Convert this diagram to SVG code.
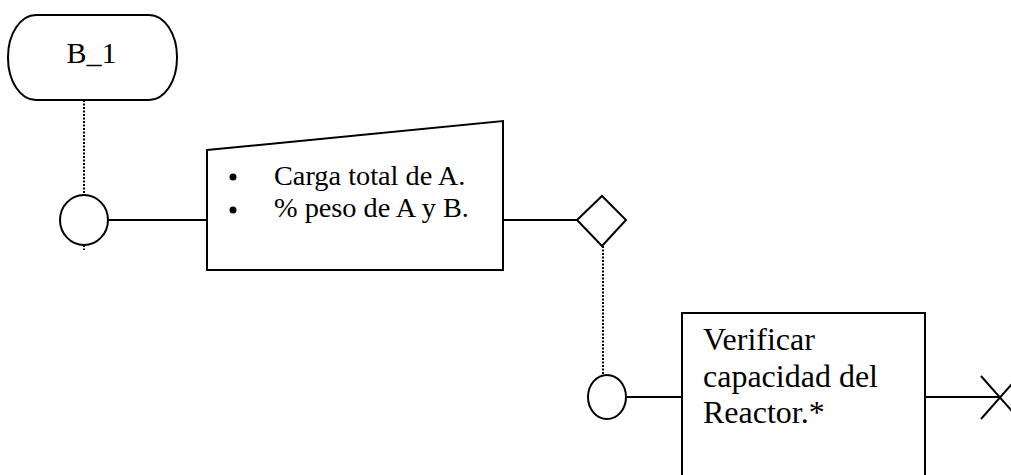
<svg xmlns="http://www.w3.org/2000/svg" width="1011" height="475" viewBox="0 0 1011 475">
<style>
.s{fill:#fff;stroke:#000;stroke-width:2}
.l{fill:none;stroke:#000;stroke-width:2}
.d{fill:none;stroke:#000;stroke-width:2;stroke-dasharray:2 1.5}
.t{font-family:"Liberation Serif","Times New Roman",serif;fill:#000}
</style>
<rect width="1011" height="475" fill="#fff"/>
<g id="connectors">
<line class="d" x1="84" y1="100" x2="84" y2="195"/>
<line class="d" x1="84" y1="245" x2="84" y2="250"/>
<line class="l" x1="108" y1="220" x2="207" y2="220"/>
<line class="l" x1="503" y1="220" x2="577" y2="220"/>
<line class="d" x1="603" y1="246" x2="603" y2="375"/>
<line class="l" x1="626" y1="397" x2="682" y2="397"/>
<line class="l" x1="925" y1="397" x2="1000" y2="397"/>
</g>
<g id="start">
<rect class="s" x="8" y="15" width="169" height="85" rx="28" ry="42"/>
<text class="t" x="91.5" y="63" font-size="30" text-anchor="middle">B_1</text>
</g>
<g id="junction1">
<ellipse class="s" cx="84" cy="220" rx="24" ry="25"/>
</g>
<g id="input">
<polygon class="s" points="207,150 503,121 503,270 207,270"/>
<circle cx="233" cy="177" r="3.5"/>
<circle cx="233" cy="210" r="3.5"/>
<text class="t" x="274" y="185" font-size="28.3">Carga total de A.</text>
<text class="t" x="274" y="217" font-size="28.3">% peso de A y B.</text>
</g>
<g id="decision">
<polygon class="s" points="577,220 602,196 626,220 602,246"/>
</g>
<g id="junction2">
<ellipse class="s" cx="607" cy="397" rx="19" ry="22"/>
</g>
<g id="process">
<rect class="s" x="682" y="313" width="243" height="175"/>
<text class="t" x="703" y="350" font-size="32">Verificar</text>
<text class="t" x="703" y="387" font-size="32">capacidad del</text>
<text class="t" x="703" y="423" font-size="32">Reactor.*</text>
</g>
<g id="end">
<line class="l" x1="981" y1="376" x2="1019" y2="419"/>
<line class="l" x1="981" y1="419" x2="1019" y2="376"/>
</g>
</svg>
